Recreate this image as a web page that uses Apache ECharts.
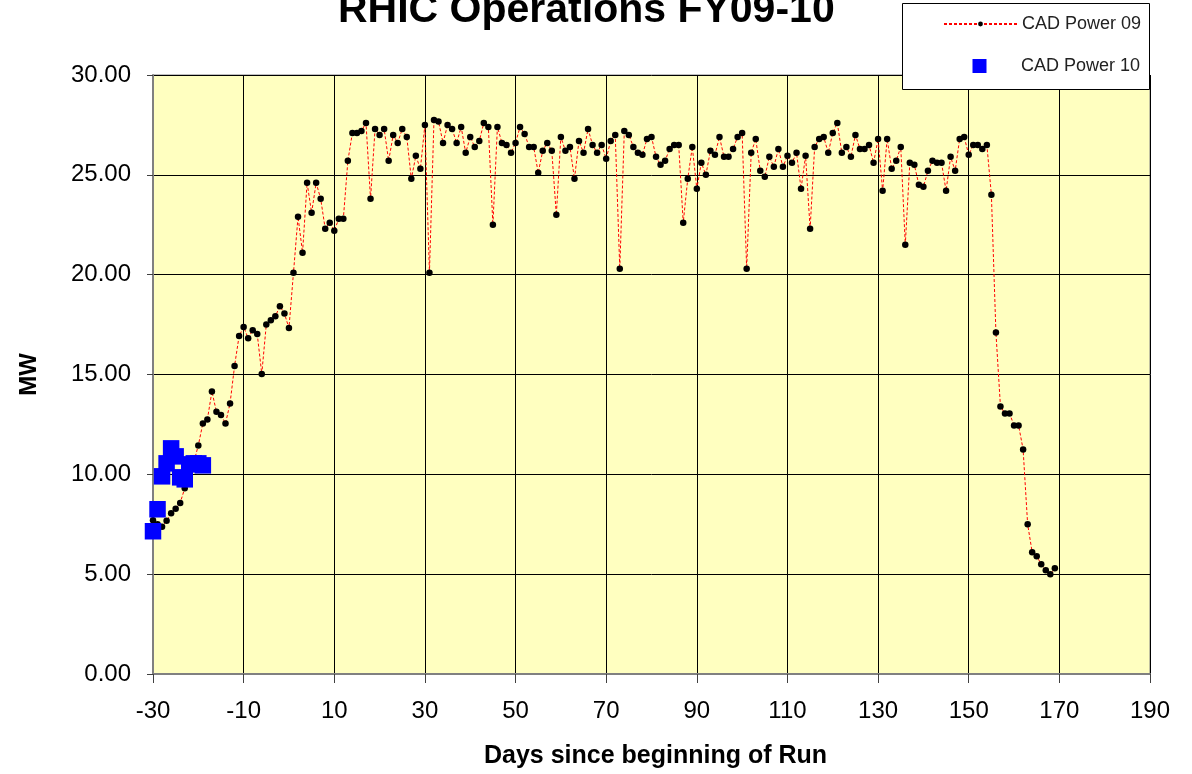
<!DOCTYPE html>
<html>
<head>
<meta charset="utf-8">
<script src="https://cdn.jsdelivr.net/npm/echarts@6/dist/echarts.min.js"></script>
<style>
html,body{margin:0;padding:0;background:#fff;}
#chart{width:1192px;height:774px;}
</style>
</head>
<body>
<div id="chart"></div>
<script>
// ---- data ----
var titleText = 'RHIC Operations FY09-10';
var xAxisName = 'Days since beginning of Run';
var yAxisName = 'MW';
var seriesName09 = 'CAD Power 09';
var seriesName10 = 'CAD Power 10';

// CAD Power 09: one value per day, starting at day -30
var firstDay09 = -30;
var values09 = [
  7.7, 7.5, 7.37, 7.67, 8.05, 8.28, 8.57, 9.3, 9.9, 10.6,
  11.45, 12.55, 12.75, 14.15, 13.13, 12.97, 12.55, 13.55, 15.43, 16.93,
  17.38, 16.82, 17.22, 17.03, 15.03, 17.5, 17.72, 17.92, 18.42, 18.05,
  17.33, 20.1, 22.9, 21.1, 24.6, 23.1, 24.6, 23.8, 22.3, 22.6,
  22.2, 22.8, 22.8, 25.7, 27.1, 27.1, 27.2, 27.6, 23.8, 27.3,
  27.0, 27.3, 25.7, 27.0, 26.6, 27.3, 26.9, 24.8, 25.95, 25.3,
  27.5, 20.1, 27.75, 27.67, 26.6, 27.5, 27.3, 26.6, 27.4, 26.1,
  26.9, 26.4, 26.7, 27.6, 27.4, 22.5, 27.4, 26.6, 26.5, 26.1,
  26.6, 27.4, 27.05, 26.4, 26.4, 25.1, 26.2, 26.6, 26.2, 23.0,
  26.9, 26.2, 26.4, 24.8, 26.7, 26.1, 27.3, 26.5, 26.1, 26.5,
  25.8, 26.7, 27.0, 20.3, 27.2, 27.0, 26.4, 26.1, 26.0, 26.8,
  26.9, 25.9, 25.5, 25.7, 26.3, 26.5, 26.5, 22.6, 24.8, 26.4,
  24.3, 25.6, 25.0, 26.2, 26.0, 26.9, 25.9, 25.9, 26.3, 26.9,
  27.1, 20.3, 26.1, 26.8, 25.2, 24.9, 25.9, 25.4, 26.3, 25.4,
  25.95, 25.6, 26.1, 24.3, 25.95, 22.3, 26.4, 26.8, 26.9, 26.1,
  27.1, 27.6, 26.1, 26.4, 25.9, 27.0, 26.3, 26.3, 26.5, 25.6,
  26.8, 24.2, 26.8, 25.3, 25.7, 26.4, 21.5, 25.6, 25.5, 24.5,
  24.4, 25.2, 25.7, 25.6, 25.6, 24.2, 25.9, 25.2, 26.8, 26.9,
  26.0, 26.5, 26.5, 26.3, 26.5, 24.0, 17.1, 13.4, 13.05, 13.05,
  12.45, 12.45, 11.25, 7.5, 6.1, 5.9, 5.5, 5.2, 5.0, 5.3
];

// CAD Power 10
var days10 = [-30, -29, -28, -27, -26, -25, -24, -23, -22, -21, -20, -19];
var values10 = [7.15, 8.25, 9.9, 10.55, 11.3, 10.9, 9.85, 9.75, 10.5, 10.55, 10.55, 10.45];

// axis ticks
var xMin = -30, xMax = 190, xStep = 20;
var yMin = 0, yMax = 30, yStep = 5;

// ---- build ----
var data09 = values09.map(function (v, i) { return [firstDay09 + i, v]; });
var data10 = values10.map(function (v, i) { return [days10[i], v]; });

var FONT = "'Liberation Sans', Arial, sans-serif";
var chart = echarts.init(document.getElementById('chart'), null, {renderer: 'canvas'});

chart.setOption({
  animation: false,
  backgroundColor: '#ffffff',
  title: {
    text: titleText,
    left: 333,
    top: -15,
    textStyle: {fontFamily: FONT, fontSize: 41, fontWeight: 'bold', color: '#000'}
  },
  grid: {
    left: 153, right: 42, top: 75, bottom: 99,
    show: true, backgroundColor: '#FFFFC0', borderColor: '#808080', borderWidth: 1
  },
  xAxis: {
    type: 'value', min: xMin, max: xMax, interval: xStep,
    name: xAxisName, nameLocation: 'middle', nameGap: 70,
    nameTextStyle: {fontFamily: FONT, fontSize: 25, fontWeight: 'bold', color: '#000',
      padding: [0, 0, 0, 8]},
    axisLine: {show: true, onZero: false, lineStyle: {color: '#808080', width: 2}},
    axisTick: {show: true, length: 9, lineStyle: {color: '#404040', width: 1}},
    axisLabel: {fontFamily: FONT, fontSize: 24, color: '#000', margin: 25},
    splitLine: {show: true, lineStyle: {color: '#000', width: 1}}
  },
  yAxis: {
    type: 'value', min: yMin, max: yMax, interval: yStep,
    name: yAxisName, nameLocation: 'middle', nameGap: 112, nameRotate: 90,
    nameTextStyle: {fontFamily: FONT, fontSize: 24, fontWeight: 'bold', color: '#000'},
    axisLine: {show: true, onZero: false, lineStyle: {color: '#808080', width: 2}},
    axisTick: {show: true, length: 6, lineStyle: {color: '#404040', width: 1}},
    axisLabel: {fontFamily: FONT, fontSize: 24, color: '#000', margin: 22,
      formatter: function (v) { return v.toFixed(2); }},
    splitLine: {show: true, lineStyle: {color: '#000', width: 1}}
  },
  legend: [
    {
      data: [seriesName09], left: 943, top: 15, padding: 0, z: 12,
      itemWidth: 73, itemHeight: 6,
      textStyle: {fontFamily: FONT, fontSize: 18, color: '#222'}
    },
    {
      data: [{name: seriesName10, icon: 'path://M0,0M29.5,0h14v14h-14zM73,14'}],
      left: 943, top: 57, padding: 0, z: 12,
      itemWidth: 73, itemHeight: 14,
      textStyle: {fontFamily: FONT, fontSize: 18, color: '#222'}
    }
  ],
  graphic: [{
    type: 'rect', z: 10,
    shape: {x: 902.5, y: 3.5, width: 247, height: 86},
    style: {fill: '#ffffff', stroke: '#000000', lineWidth: 1}
  }],
  series: [
    {
      name: seriesName09, type: 'line', data: data09, z: 2,
      showSymbol: true, showAllSymbol: true,
      symbol: 'circle', symbolSize: 6.5,
      itemStyle: {color: '#000000'},
      lineStyle: {color: '#ff0000', width: 1, type: [3, 2]}
    },
    {
      name: seriesName10, type: 'scatter', data: data10, z: 3,
      symbol: 'rect', symbolSize: 16.5,
      itemStyle: {color: '#0000ff', opacity: 1}
    }
  ]
});
</script>
</body>
</html>
